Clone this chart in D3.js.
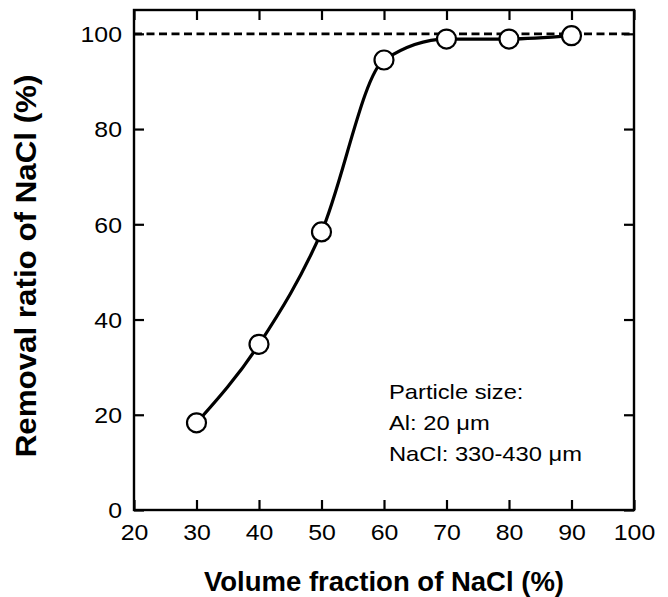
<!DOCTYPE html>
<html>
<head>
<meta charset="utf-8">
<script src="https://cdn.jsdelivr.net/npm/d3@7/dist/d3.min.js"></script>
<style>
  html, body { margin: 0; padding: 0; background: #fff; }
  svg { display: block; }
  text { font-family: "Liberation Sans", Arial, Helvetica, sans-serif; fill: #000; }
</style>
</head>
<body>
<svg id="chart" width="668" height="597"></svg>
<script>
// Data
const volumeFraction = [30, 40, 50, 60, 70, 80, 90];
const removalRatio   = [18.3, 34.8, 58.4, 94.5, 98.9, 98.9, 99.6];
const xTicks = [20, 30, 40, 50, 60, 70, 80, 90, 100];
const yTicks = [0, 20, 40, 60, 80, 100];
const referenceLevel = [100];
const xTitle = "Volume fraction of NaCl (%)";
const yTitle = "Removal ratio of NaCl (%)";
const annotation = ["Particle size:", "Al: 20 \u03bcm", "NaCl: 330-430 \u03bcm"];

const svg = d3.select("#chart");
const L = 134, R = 634, T = 10, B = 510;
const x = d3.scaleLinear().domain([20, 100]).range([L, R]);
const y = d3.scaleLinear().domain([0, 105]).range([B, T]);
const SX = 1.13; // horizontal stretch of regular text
const tickFont = 22;

// Bottom axis
const gx = svg.append("g").attr("transform", `translate(0,${B})`)
  .call(d3.axisBottom(x).tickValues(xTicks).tickSizeInner(-10).tickSizeOuter(0).tickFormat(d3.format("d")));
gx.select(".domain").remove();
gx.selectAll(".tick line").attr("stroke", "#000").attr("stroke-width", 2.2);
gx.selectAll(".tick text").attr("font-size", tickFont).attr("font-family", "Liberation Sans, Arial, sans-serif")
  .attr("y", 30).attr("dy", 0).attr("transform", `scale(${SX},1)`);

// Top axis (ticks only)
const gt = svg.append("g").attr("transform", `translate(0,${T})`)
  .call(d3.axisTop(x).tickValues(xTicks).tickSizeInner(-10).tickSizeOuter(0).tickFormat(""));
gt.select(".domain").remove();
gt.selectAll(".tick line").attr("stroke", "#000").attr("stroke-width", 2.2);

// Left axis
const gy = svg.append("g").attr("transform", `translate(${L},0)`)
  .call(d3.axisLeft(y).tickValues(yTicks).tickSizeInner(-10).tickSizeOuter(0).tickFormat(d3.format("d")));
gy.select(".domain").remove();
gy.selectAll(".tick line").attr("stroke", "#000").attr("stroke-width", 2.2);
gy.selectAll(".tick text").attr("font-size", tickFont).attr("font-family", "Liberation Sans, Arial, sans-serif")
  .attr("x", -12 / SX).attr("dy", "0.36em").attr("transform", `scale(${SX},1)`);

// Right axis (ticks only)
const gr = svg.append("g").attr("transform", `translate(${R},0)`)
  .call(d3.axisRight(y).tickValues(yTicks).tickSizeInner(-10).tickSizeOuter(0).tickFormat(""));
gr.select(".domain").remove();
gr.selectAll(".tick line").attr("stroke", "#000").attr("stroke-width", 2.2);

// Frame
svg.append("rect").attr("x", L).attr("y", T).attr("width", R - L).attr("height", B - T)
  .attr("fill", "none").attr("stroke", "#000").attr("stroke-width", 2.4);

// Dashed reference line
svg.selectAll(".ref").data(referenceLevel).enter().append("line")
  .attr("x1", L).attr("x2", R).attr("y1", d => y(d)).attr("y2", d => y(d))
  .attr("stroke", "#000").attr("stroke-width", 2.8).attr("stroke-dasharray", "8,4.5");

// Curve
const pts = volumeFraction.map((v, i) => [v, removalRatio[i]]);
const line = d3.line().x(d => x(d[0])).y(d => y(d[1])).curve(d3.curveMonotoneX);
svg.append("path").attr("d", line(pts)).attr("fill", "none").attr("stroke", "#000").attr("stroke-width", 3.2);

// Points
svg.selectAll(".pt").data(pts).enter().append("circle")
  .attr("cx", d => x(d[0])).attr("cy", d => y(d[1])).attr("r", 9.5)
  .attr("fill", "#fff").attr("stroke", "#000").attr("stroke-width", 2.2);

// Annotation
svg.selectAll(".ann").data(annotation).enter().append("text")
  .attr("transform", (d, i) => `translate(389,${399 + i * 31}) scale(${SX},1)`)
  .attr("font-size", 21).text(d => d);

// Axis titles
svg.append("text").attr("x", (L + R) / 2).attr("y", 591).attr("text-anchor", "middle")
  .attr("font-size", 27.5).attr("font-weight", "bold").text(xTitle);
svg.append("text").attr("transform", `translate(36,${266}) rotate(-90) scale(1.08,1)`).attr("text-anchor", "middle")
  .attr("font-size", 29).attr("font-weight", "bold").text(yTitle);
</script>
</body>
</html>
